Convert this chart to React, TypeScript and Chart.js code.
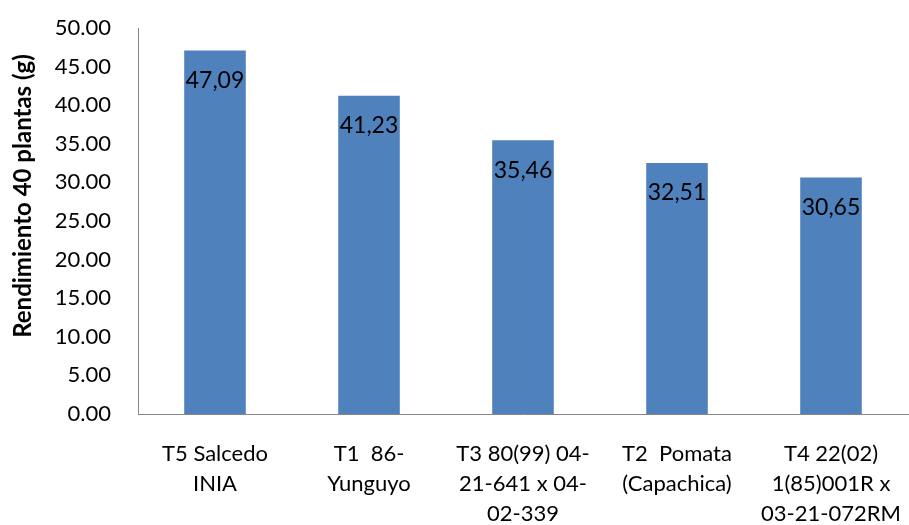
import React, { useEffect, useRef } from "react";
import { Chart, registerables } from "chart.js";

Chart.register(...registerables);

const categories: string[][] = [
  ["T5 Salcedo", "INIA"],
  ["T1  86-", "Yunguyo"],
  ["T3 80(99) 04-", "21-641 x 04-", "02-339"],
  ["T2  Pomata", "(Capachica)"],
  ["T4 22(02)", "1(85)001R x", "03-21-072RM"],
];
const values: number[] = [47.09, 41.23, 35.46, 32.51, 30.65];
const yTitle = "Rendimiento 40 plantas (g)";
const FONT = "Lato, 'Open Sans', sans-serif";

const labelPlugin = {
  id: "customLabels",
  afterDatasetsDraw(chart: any) {
    const ctx = chart.ctx;
    const meta = chart.getDatasetMeta(0);
    ctx.save();
    ctx.font = `23px ${FONT}`;
    ctx.fillStyle = "#000";
    ctx.textAlign = "center";
    ctx.textBaseline = "middle";
    meta.data.forEach((bar: any, i: number) => {
      const txt = values[i].toFixed(2).replace(".", ",");
      ctx.fillText(txt, bar.x, bar.y + 30);
    });
    ctx.restore();
    const ca = chart.chartArea;
    ctx.save();
    ctx.translate(23, (ca.top + ca.bottom) / 2 - 25);
    ctx.rotate(-Math.PI / 2);
    ctx.font = `bold 24px ${FONT}`;
    ctx.fillStyle = "#000";
    ctx.textAlign = "center";
    ctx.textBaseline = "middle";
    ctx.fillText(yTitle, 0, 0);
    ctx.restore();
  },
};

export default function App() {
  const ref = useRef<HTMLCanvasElement>(null);
  useEffect(() => {
    document.body.style.margin = "0";
    const chart = new Chart(ref.current!, {
      type: "bar",
      data: {
        labels: categories,
        datasets: [
          {
            data: values,
            backgroundColor: "#4F81BD",
            borderColor: "#4F81BD",
            borderWidth: 0,
            barPercentage: 0.4,
            categoryPercentage: 1,
          },
        ],
      },
      options: {
        responsive: false,
        animation: false,
        layout: { padding: { top: 28, right: 1, left: 0, bottom: 0 } },
        plugins: { legend: { display: false }, tooltip: { enabled: false } },
        scales: {
          x: {
            grid: { display: false, drawTicks: false },
            border: { display: true, color: "#868686", width: 1 },
            ticks: {
              color: "#000",
              font: { family: FONT, size: 22, lineHeight: 1.36 },
              padding: 25,
              maxRotation: 0,
              autoSkip: false,
            },
            afterFit(scale: any) {
              scale.height = 111;
              scale.paddingLeft = 0;
              scale.paddingRight = 0;
            },
          },
          y: {
            min: 0,
            max: 50,
            grid: { display: false, drawTicks: false },
            border: { display: true, color: "#868686", width: 1 },
            ticks: {
              stepSize: 5,
              color: "#000",
              font: { family: FONT, size: 22 },
              padding: 27,
              callback: (v: any) => Number(v).toFixed(2),
            },
            afterFit(scale: any) {
              scale.width = 138;
              scale.paddingTop = 0;
              scale.paddingBottom = 0;
            },
          },
        },
      },
      plugins: [labelPlugin],
    });
    return () => chart.destroy();
  }, []);
  return (
    <div style={{ position: "absolute", left: 0, top: 0, width: 909, height: 525 }}>
      <canvas ref={ref} width={909} height={525} style={{ display: "block" }} />
    </div>
  );
}
